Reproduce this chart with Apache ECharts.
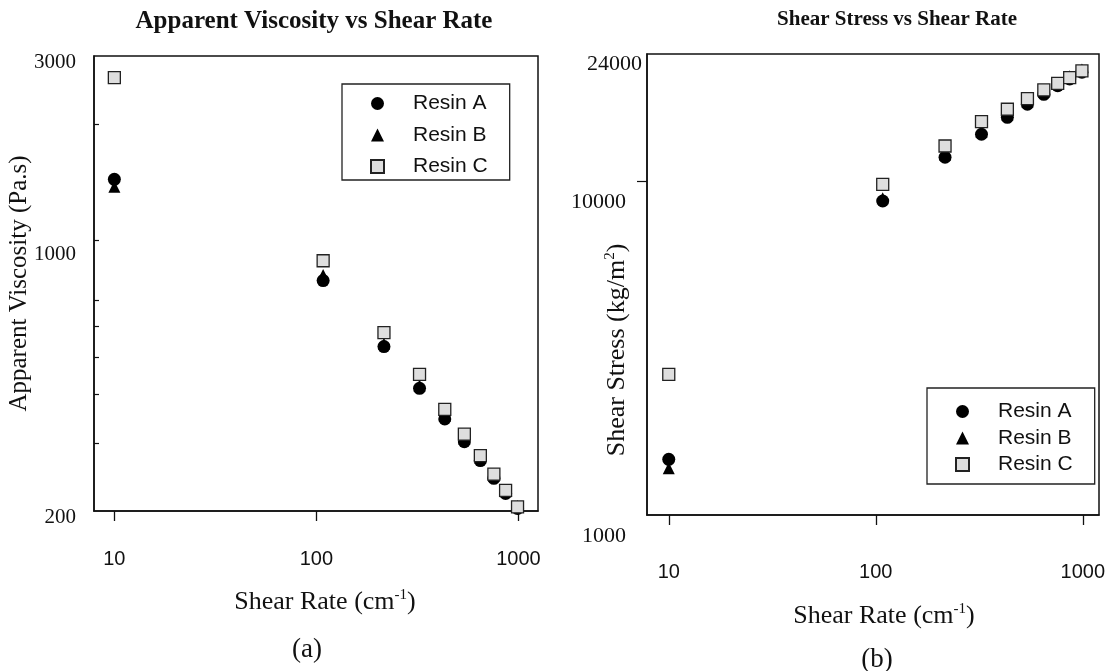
<!DOCTYPE html>
<html><head><meta charset="utf-8">
<script src="https://cdn.jsdelivr.net/npm/echarts@6/dist/echarts.min.js"></script>
<style>html,body{margin:0;padding:0;background:#fff}#c{width:1110px;height:671px}</style>
</head><body><div id="c"></div>
<script>
// ---- data ----
const shearRate = [10, 108, 216, 324, 432, 540, 648, 756, 864, 990];
const viscA = [1440, 788, 532, 415, 346, 302, 270, 243, 222, 203];
const viscB = [1378, 815, 541, 422, 352, 307, 274, 247, 225, 206];
const viscC = [2637, 887, 578, 451, 366, 316, 278, 249, 226, 205];
const stressA = [1468, 8710, 11780, 13800, 15510, 16970, 18180, 19290, 20200, 21160];
const stressB = [1380, 8880, 12010, 14070, 15810, 17300, 18530, 19660, 20590, 21570];
const stressC = [2638, 9773, 12730, 15060, 16400, 17640, 18730, 19610, 20390, 21350];
const seriesNames = ['Resin A', 'Resin B', 'Resin C'];
const xTickValues = [10, 100, 1000];
const viscLabelValues = [200, 1000, 3000];
const viscTickValues = [300, 400, 500, 600, 700, 1000, 2000];
const stressLabelValues = [1000, 10000, 24000];
const stressTickValues = [10000];

// ---- styles ----
const SERIF = 'Liberation Serif';
const SANS = 'Liberation Sans';
const INK = '#111';
const symbols = ['circle', 'triangle', 'rect'];
const symSizes = [13, 12, 12];
const itemStyles = [
  {color: '#000', opacity: 1},
  {color: '#000', opacity: 1},
  {color: '#dedede', borderColor: '#222', borderWidth: 1.3, opacity: 1}
];
const zOrder = [3, 2, 4];
function pts(xs, ys) { return xs.map((x, i) => [x, ys[i]]); }

const chart = echarts.init(document.getElementById('c'), null, {renderer: 'canvas'});

function xAxisCfg(gi, min, max, labelMargin, nameGap, namePadLeft) {
  return {
    type: 'log', logBase: 10, gridIndex: gi, min: min, max: max,
    axisLine: {show: true, lineStyle: {color: INK, width: 1.5}},
    axisTick: {show: true, inside: false, length: 10, customValues: xTickValues, lineStyle: {color: INK, width: 1.3}},
    axisLabel: {customValues: xTickValues, margin: labelMargin, fontFamily: SANS, fontSize: 20, color: INK,
      formatter: v => String(Math.round(v))},
    splitLine: {show: false}, minorTick: {show: false},
    name: '{n|Shear Rate (cm}{s|-1}{n|)}', nameLocation: 'middle', nameGap: nameGap, nameMoveOverlap: false,
    nameTextStyle: {padding: [0, 0, 0, namePadLeft], rich: {
      n: {fontFamily: SERIF, fontSize: 26, color: INK, lineHeight: 28},
      s: {fontFamily: SERIF, fontSize: 15, color: INK, verticalAlign: 'top', lineHeight: 15}
    }}
  };
}

const viscRich = {
  a: {fontFamily: SERIF, fontSize: 21, color: INK, padding: [12, 0, 0, 0]},
  b: {fontFamily: SERIF, fontSize: 21, color: INK, padding: [28, 0, 0, 0]}
};
const stressRich = {
  c: {fontFamily: SERIF, fontSize: 22, color: INK, padding: [20, 0, 0, 0]},
  d: {fontFamily: SERIF, fontSize: 22, color: INK, padding: [42, 16, 0, 0]}
};

const series = [];
[viscA, viscB, viscC].forEach((ys, i) => series.push({
  type: 'scatter', name: seriesNames[i], xAxisIndex: 0, yAxisIndex: 0,
  symbol: symbols[i], symbolSize: symSizes[i], itemStyle: itemStyles[i],
  emphasis: {disabled: true},
  data: pts(shearRate, ys), z: zOrder[i]
}));
[stressA, stressB, stressC].forEach((ys, i) => series.push({
  type: 'scatter', name: seriesNames[i], xAxisIndex: 1, yAxisIndex: 1,
  symbol: symbols[i], symbolSize: symSizes[i], itemStyle: itemStyles[i],
  emphasis: {disabled: true},
  data: pts(shearRate, ys), z: zOrder[i]
}));

function legendCfg(left, top, padding, gap) {
  return {
    data: seriesNames, orient: 'vertical', left: left, top: top, padding: padding, itemGap: gap,
    itemWidth: 13, itemHeight: 13, borderColor: '#222', borderWidth: 1.3, backgroundColor: '#fff',
    selectedMode: false,
    textStyle: {fontFamily: SANS, fontSize: 21, color: INK, lineHeight: 21, padding: [0, 0, 0, 24]}
  };
}

const option = {
  backgroundColor: '#fff',
  animation: false,
  title: [
    {text: 'Apparent Viscosity vs Shear Rate', left: 309, top: 4, textAlign: 'center',
      textStyle: {fontFamily: SERIF, fontWeight: 'bold', fontSize: 25, color: INK}},
    {text: 'Shear Stress vs Shear Rate', left: 892, top: 4, textAlign: 'center',
      textStyle: {fontFamily: SERIF, fontWeight: 'bold', fontSize: 21, color: INK}},
    {text: '(a)', left: 302, top: 631, textAlign: 'center',
      textStyle: {fontFamily: SERIF, fontWeight: 'normal', fontSize: 27, color: INK}},
    {text: '(b)', left: 872, top: 641, textAlign: 'center',
      textStyle: {fontFamily: SERIF, fontWeight: 'normal', fontSize: 27, color: INK}}
  ],
  legend: [
    legendCfg(342, 84, [9, 22, 3, 28], 10.5),
    legendCfg(927, 388, [13, 22, 9, 28], 5.5)
  ],
  grid: [
    {left: 94, top: 56, width: 444, height: 455, show: true, borderColor: INK, borderWidth: 1.5, backgroundColor: 'transparent'},
    {left: 647, top: 54, width: 452, height: 461, show: true, borderColor: INK, borderWidth: 1.5, backgroundColor: 'transparent'}
  ],
  xAxis: [
    xAxisCfg(0, 7.93, 1250, 38, 77, 18),
    xAxisCfg(1, 7.85, 1197, 47, 87, 22)
  ],
  yAxis: [
    {
      type: 'log', logBase: 10, gridIndex: 0, min: 200, max: 3000,
      axisLine: {show: true, lineStyle: {color: INK, width: 1.5}},
      axisTick: {show: true, inside: true, length: 5, customValues: viscTickValues, lineStyle: {color: INK, width: 1.2}},
      axisLabel: {customValues: viscLabelValues, margin: 18, fontFamily: SERIF, fontSize: 21, color: INK,
        formatter: v => { const r = Math.round(v); return '{' + (r === 1000 ? 'b' : 'a') + '|' + r + '}'; },
        rich: viscRich},
      splitLine: {show: false}, minorTick: {show: false},
      name: 'Apparent Viscosity (Pa.s)', nameLocation: 'middle', nameGap: 62, nameMoveOverlap: false,
      nameTextStyle: {fontFamily: SERIF, fontSize: 25, color: INK}
    },
    {
      type: 'log', logBase: 10, gridIndex: 1, min: 1000, max: 24000,
      axisLine: {show: true, lineStyle: {color: INK, width: 1.5}},
      axisTick: {show: true, inside: false, length: 10, customValues: stressTickValues, lineStyle: {color: INK, width: 1.2}},
      axisLabel: {customValues: stressLabelValues, margin: 5, fontFamily: SERIF, fontSize: 22, color: INK,
        formatter: v => { const r = Math.round(v); return '{' + (r === 24000 ? 'c' : 'd') + '|' + r + '}'; },
        rich: stressRich},
      splitLine: {show: false}, minorTick: {show: false},
      name: '{n|Shear Stress (kg/m}{s|2}{n|)}', nameLocation: 'middle', nameGap: 16, nameMoveOverlap: false,
      nameTextStyle: {padding: [0, 131, 0, 0], rich: {
        n: {fontFamily: SERIF, fontSize: 26, color: INK, lineHeight: 28},
        s: {fontFamily: SERIF, fontSize: 15, color: INK, verticalAlign: 'top', lineHeight: 15}
      }}
    }
  ],
  series: series
};
chart.setOption(option);
</script>
</body></html>
